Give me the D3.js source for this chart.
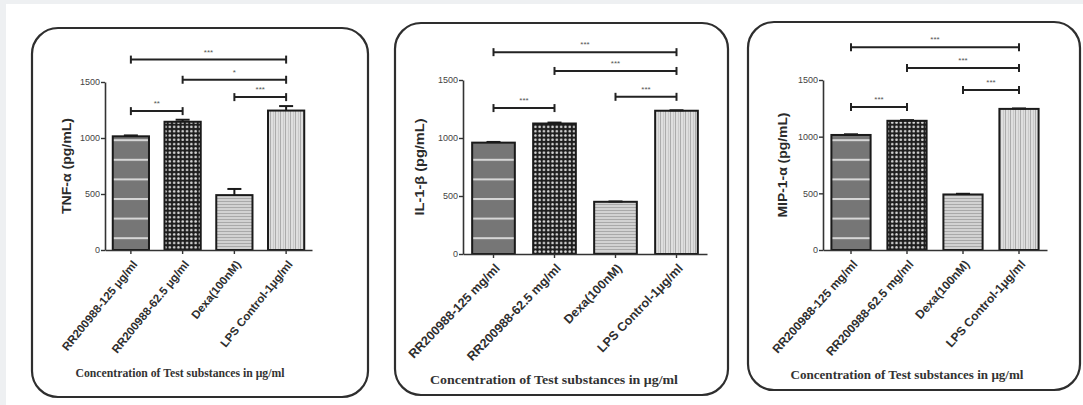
<!DOCTYPE html>
<html>
<head>
<meta charset="utf-8">
<script src="https://cdn.jsdelivr.net/npm/d3@7"></script>
<style>
  body { margin: 0; background: #eef0f2; }
  #chart svg { display: block; }
</style>
</head>
<body>
<div id="chart"></div>
<script>
// data
const groupLabelsA = ["RR200988-125 μg/ml", "RR200988-62.5 μg/ml", "Dexa(100nM)", "LPS Control-1μg/ml"];
const groupLabelsB = ["RR200988-125 mg/ml", "RR200988-62.5 mg/ml", "Dexa(100nM)", "LPS Control-1μg/ml"];
const yTitles = ["TNF-α  (pg/mL)", "IL-1-β (pg/mL)", "MIP-1-α (pg/mL)"];
const xTitle = "Concentration of Test substances in μg/ml";
const yTicks = [0, 500, 1000, 1500];

const tnfValues = [1015, 1145, 490, 1245];
const tnfErrors = [8, 18, 55, 40];
const il1Values = [960, 1125, 450, 1235];
const il1Errors = [6, 8, 3, 4];
const mipValues = [1015, 1140, 490, 1245];
const mipErrors = [6, 6, 6, 4];

// [from, to, y value, stars]
const tnfSig = [[0, 3, 1700, "***"], [1, 3, 1520, "*"], [2, 3, 1365, "***"], [0, 1, 1240, "**"]];
const il1Sig = [[0, 3, 1740, "***"], [1, 3, 1578, "***"], [2, 3, 1355, "***"], [0, 1, 1258, "***"]];
const mipSig = [[0, 3, 1790, "***"], [1, 3, 1606, "***"], [2, 3, 1412, "***"], [0, 1, 1262, "***"]];

const patterns = ["pStripe", "pDots", "pHLines", "pVLines"];

const W = 1083, H = 405;

const panels = [
	{ values: tnfValues, errors: tnfErrors, sig: tnfSig, labels: groupLabelsA, yTitle: yTitles[0],
	  frame: [32, 28, 336, 369], xr: [105, 312], yr: [250, 82], yTx: 67, yTlen: 96,
	  xTy: 377, xTcx: 180, xTlen: 209, angle: -51, tickFont: 11.5 },
	{ values: il1Values, errors: il1Errors, sig: il1Sig, labels: groupLabelsB, yTitle: yTitles[1],
	  frame: [395, 23, 333, 372], xr: [463, 707], yr: [254, 80], yTx: 420, yTlen: 97,
	  xTy: 384, xTcx: 554, xTlen: 248, angle: -46, tickFont: 12.5 },
	{ values: mipValues, errors: mipErrors, sig: mipSig, labels: groupLabelsB, yTitle: yTitles[2],
	  frame: [748, 22, 332, 368], xr: [823, 1047], yr: [250, 80], yTx: 783, yTlen: 105,
	  xTy: 379, xTcx: 907, xTlen: 233, angle: -48, tickFont: 12 }
];

const svg = d3.select("#chart")
	.append("svg")
	.attr("width", W)
	.attr("height", H);

svg.append("rect")
	.attr("x", 6).attr("y", 4)
	.attr("width", W - 6).attr("height", H - 4)
	.attr("fill", "#fff");

// Fill patterns
const defs = svg.append("defs");

const p1 = defs.append("pattern").attr("id", "pStripe")
	.attr("patternUnits", "userSpaceOnUse").attr("width", 8).attr("height", 19.6).attr("y", 2);
p1.append("rect").attr("width", 8).attr("height", 19.6).attr("fill", "#767676");
p1.append("rect").attr("y", 0).attr("width", 8).attr("height", 2).attr("fill", "#d6d6d6");

const p2 = defs.append("pattern").attr("id", "pDots")
	.attr("patternUnits", "userSpaceOnUse").attr("width", 4.3).attr("height", 4.3);
p2.append("rect").attr("width", 4.3).attr("height", 4.3).attr("fill", "#1e1e1e");
p2.append("circle").attr("cx", 2.15).attr("cy", 2.15).attr("r", 1.3).attr("fill", "#d8d8d8");

const p3 = defs.append("pattern").attr("id", "pHLines")
	.attr("patternUnits", "userSpaceOnUse").attr("width", 4).attr("height", 3);
p3.append("rect").attr("width", 4).attr("height", 3).attr("fill", "#d2d2d2");
p3.append("rect").attr("width", 4).attr("height", 1).attr("fill", "#a9a9a9");

const p4 = defs.append("pattern").attr("id", "pVLines")
	.attr("patternUnits", "userSpaceOnUse").attr("width", 5).attr("height", 4);
p4.append("rect").attr("width", 5).attr("height", 4).attr("fill", "#dedede");
p4.append("rect").attr("width", 1).attr("height", 4).attr("fill", "#ababab");
p4.append("rect").attr("x", 3).attr("width", 0.8).attr("height", 4).attr("fill", "#c4c4c4");

panels.forEach(p => drawPanel(p));

function drawPanel(p) {
	const [fx, fy, fw, fh] = p.frame;
	const cats = d3.range(p.values.length);

	svg.append("rect")
		.attr("x", fx).attr("y", fy)
		.attr("width", fw).attr("height", fh)
		.attr("rx", 26)
		.attr("fill", "#fff")
		.attr("stroke", "#2e2e2e")
		.attr("stroke-width", 2.2);

	const xScale = d3.scaleBand()
		.domain(cats)
		.range(p.xr)
		.paddingInner(0.3)
		.paddingOuter(0.15);

	const yScale = d3.scaleLinear()
		.domain([0, 1500])
		.range(p.yr);

	const g = svg.append("g");

	// bars
	g.selectAll("rect.bar")
		.data(p.values)
		.enter()
		.append("rect")
		.attr("class", "bar")
		.attr("x", (d, i) => xScale(i))
		.attr("y", d => yScale(d))
		.attr("width", xScale.bandwidth())
		.attr("height", d => yScale(0) - yScale(d))
		.attr("fill", (d, i) => `url(#${patterns[i]})`)
		.attr("stroke", "#1a1a1a")
		.attr("stroke-width", 2);

	// error bars
	const eb = g.selectAll("g.err")
		.data(p.values)
		.enter()
		.append("g")
		.attr("stroke", "#1a1a1a")
		.attr("stroke-width", 2);
	eb.append("line")
		.attr("x1", (d, i) => xScale(i) + xScale.bandwidth() / 2)
		.attr("x2", (d, i) => xScale(i) + xScale.bandwidth() / 2)
		.attr("y1", d => yScale(d))
		.attr("y2", (d, i) => yScale(d + p.errors[i]));
	eb.append("line")
		.attr("x1", (d, i) => xScale(i) + xScale.bandwidth() / 2 - 7)
		.attr("x2", (d, i) => xScale(i) + xScale.bandwidth() / 2 + 7)
		.attr("y1", (d, i) => yScale(d + p.errors[i]))
		.attr("y2", (d, i) => yScale(d + p.errors[i]));

	// axes
	const yAxis = d3.axisLeft(yScale).tickValues(yTicks).tickFormat(d3.format("d"))
		.tickSize(4).tickSizeOuter(0);
	const yG = g.append("g")
		.attr("transform", `translate(${p.xr[0]},0)`)
		.call(yAxis);
	yG.select(".domain").attr("stroke", "#333").attr("stroke-width", 1.6);
	yG.selectAll(".tick line").attr("stroke", "#333").attr("stroke-width", 1.4);
	yG.selectAll(".tick text")
		.attr("font-family", "Liberation Sans, Arial, sans-serif")
		.attr("font-size", 9)
		.attr("fill", "#444")
		.attr("x", -5);

	const xAxis = d3.axisBottom(xScale).tickSize(4).tickSizeOuter(0).tickFormat(i => p.labels[i]);
	const xG = g.append("g")
		.attr("transform", `translate(0,${yScale(0)})`)
		.call(xAxis);
	xG.select(".domain").attr("stroke", "#333").attr("stroke-width", 1.6);
	xG.selectAll(".tick line").attr("stroke", "#333").attr("stroke-width", 1.4);
	xG.selectAll(".tick text")
		.attr("font-family", "Liberation Sans, Arial, sans-serif")
		.attr("font-weight", "bold")
		.attr("font-size", p.tickFont)
		.attr("fill", "#2e2e2e")
		.attr("text-anchor", "end")
		.attr("x", 0).attr("y", 0).attr("dy", "0.35em")
		.attr("transform", `translate(4,12) rotate(${p.angle})`);

	// significance brackets
	const mid = i => xScale(i) + xScale.bandwidth() / 2;
	const br = g.selectAll("g.sig")
		.data(p.sig)
		.enter()
		.append("g");
	br.append("line")
		.attr("x1", d => mid(d[0])).attr("x2", d => mid(d[1]))
		.attr("y1", d => yScale(d[2])).attr("y2", d => yScale(d[2]))
		.attr("stroke", "#222").attr("stroke-width", 2);
	br.append("line")
		.attr("x1", d => mid(d[0])).attr("x2", d => mid(d[0]))
		.attr("y1", d => yScale(d[2]) - 4).attr("y2", d => yScale(d[2]) + 4)
		.attr("stroke", "#222").attr("stroke-width", 2);
	br.append("line")
		.attr("x1", d => mid(d[1])).attr("x2", d => mid(d[1]))
		.attr("y1", d => yScale(d[2]) - 4).attr("y2", d => yScale(d[2]) + 4)
		.attr("stroke", "#222").attr("stroke-width", 2);
	br.append("text")
		.text(d => d[3])
		.attr("x", d => (mid(d[0]) + mid(d[1])) / 2)
		.attr("y", d => yScale(d[2]) - 5)
		.attr("text-anchor", "middle")
		.attr("font-family", "Liberation Sans, Arial, sans-serif")
		.attr("font-size", 8)
		.attr("fill", "#555");

	// titles
	const yMid = (p.yr[0] + p.yr[1]) / 2;
	g.append("text")
		.text(p.yTitle)
		.attr("transform", `translate(${p.yTx},${yMid}) rotate(-90)`)
		.attr("text-anchor", "middle")
		.attr("dy", "0.35em")
		.attr("font-family", "Liberation Sans, Arial, sans-serif")
		.attr("font-weight", "bold")
		.attr("font-size", 12.5)
		.attr("fill", "#2a2a2a")
		.attr("textLength", p.yTlen)
		.attr("lengthAdjust", "spacingAndGlyphs");

	g.append("text")
		.text(xTitle)
		.attr("x", p.xTcx)
		.attr("y", p.xTy)
		.attr("text-anchor", "middle")
		.attr("font-family", "Liberation Serif, Times New Roman, serif")
		.attr("font-weight", "bold")
		.attr("font-size", 11.5)
		.attr("fill", "#333")
		.attr("textLength", p.xTlen)
		.attr("lengthAdjust", "spacingAndGlyphs");
}
</script>
</body>
</html>
